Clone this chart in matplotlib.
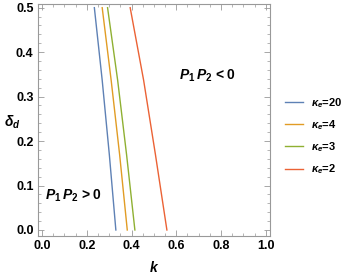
import matplotlib
matplotlib.use("Agg")
import matplotlib.pyplot as plt
from matplotlib.ticker import MultipleLocator

plt.rcParams['font.family'] = ['Liberation Sans', 'DejaVu Sans']
plt.rcParams['mathtext.fontset'] = 'custom'
plt.rcParams['mathtext.it'] = 'Liberation Sans:italic:bold'
plt.rcParams['mathtext.rm'] = 'Liberation Sans:bold'
plt.rcParams['mathtext.bf'] = 'Liberation Sans:bold'

# data
delta = [0.0, 0.169, 0.337, 0.5]
k_kappa20 = [0.330, 0.301, 0.269, 0.234]
k_kappa4 = [0.381, 0.347, 0.309, 0.269]
k_kappa3 = [0.415, 0.378, 0.338, 0.293]
k_kappa2 = [0.558, 0.507, 0.454, 0.394]
series = [k_kappa20, k_kappa4, k_kappa3, k_kappa2]
labels = [r'$\kappa_e$=20', r'$\kappa_e$=4', r'$\kappa_e$=3', r'$\kappa_e$=2']
colors = ['#5E81B5', '#E19C24', '#8FB032', '#EB6235']

fig = plt.figure(figsize=(3.46, 2.75), dpi=100)
ax = fig.add_axes([0.109, 0.143, 0.671, 0.842])
for ks, lab, c in zip(series, labels, colors):
    ax.plot(ks, delta, color=c, lw=1.0, label=lab)

ax.set_xlim(-0.019, 1.018)
ax.set_ylim(-0.0128, 0.508)
ax.xaxis.set_major_locator(MultipleLocator(0.2))
ax.xaxis.set_minor_locator(MultipleLocator(0.05))
ax.yaxis.set_major_locator(MultipleLocator(0.1))
ax.yaxis.set_minor_locator(MultipleLocator(0.02))
ax.tick_params(which='both', direction='in', top=True, right=True, color='#999999')
ax.tick_params(which='major', length=4, width=0.6, labelsize=9, pad=3)
ax.tick_params(which='minor', length=2, width=0.5)
ax.xaxis.set_major_formatter(plt.FuncFormatter(lambda v, p: f'{v:.1f}'))
ax.yaxis.set_major_formatter(plt.FuncFormatter(lambda v, p: f'{v:.1f}'))
for lbl in ax.get_xticklabels() + ax.get_yticklabels():
    lbl.set_fontweight('bold')
for s in ax.spines.values():
    s.set_color('#999999')
    s.set_linewidth(0.8)

ax.set_xlabel(r'$k$', fontsize=10, labelpad=6)
ax.set_ylabel(r'$\delta_d$', fontsize=10, rotation=0, va='center', ha='center')
ax.yaxis.set_label_coords(-0.11, 0.49)

ax.text(0.61, 0.347, r'$P_1\,P_2$ < 0', fontsize=10, fontweight='bold', va='center', ha='left')
ax.text(0.013, 0.077, r'$P_1\,P_2$ > 0', fontsize=10, fontweight='bold', va='center', ha='left')

leg = ax.legend(loc='center left', bbox_to_anchor=(0.825, 0.505), bbox_transform=fig.transFigure,
                frameon=False, fontsize=8, handlelength=1.6, handletextpad=0.7,
                labelspacing=0.75, borderaxespad=0, borderpad=0)
for t in leg.get_texts():
    t.set_fontweight('bold')

fig.savefig('out.png', dpi=100)
